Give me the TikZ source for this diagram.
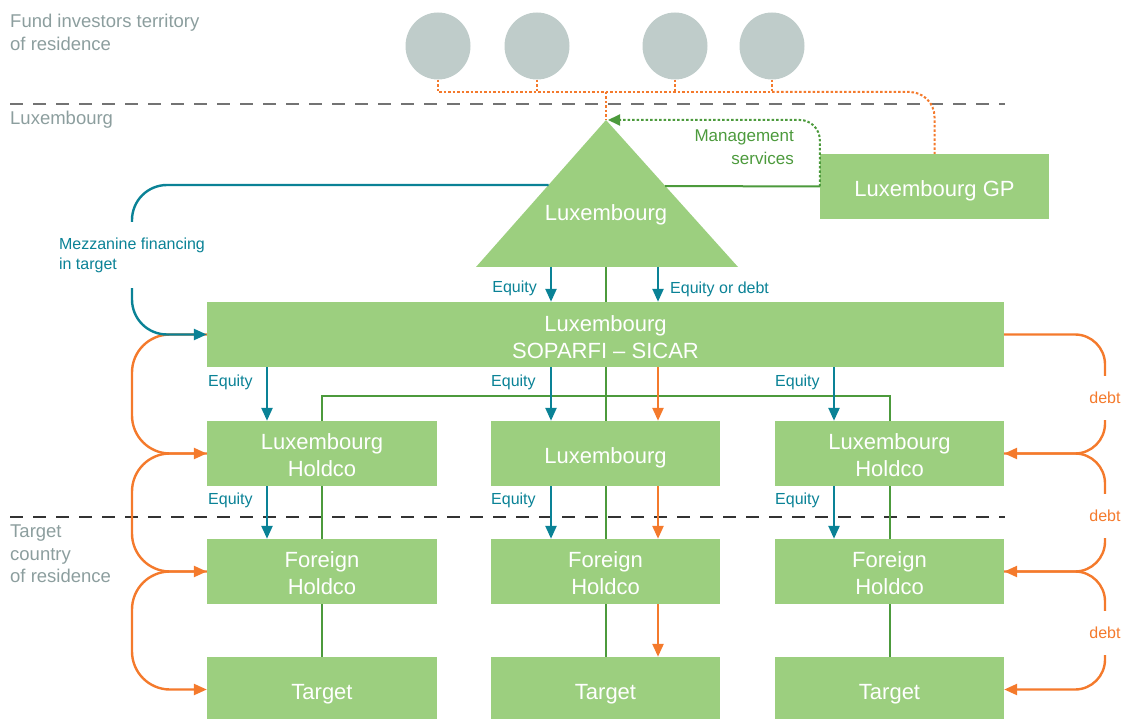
\documentclass[tikz,border=0pt]{standalone}
\usepackage{fontspec}
\setmainfont{Liberation Sans}
\usetikzlibrary{arrows.meta,shapes.geometric,calc}
\definecolor{boxg}{HTML}{9CCF7F}
\definecolor{tealc}{HTML}{0A8296}
\definecolor{orangec}{HTML}{F47A2C}
\definecolor{dgreen}{HTML}{4C9A3C}
\definecolor{greyt}{HTML}{8C9E9E}
\definecolor{circg}{HTML}{BFCCCA}
\newcommand\bxtext[2][-5pt]{\raisebox{#1}[\height][\depth]{\begin{tabular}{@{}c@{}}#2\end{tabular}}}
\begin{document}
\begin{tikzpicture}[x=1pt,y=-1pt,
  box/.style={fill=boxg,text=white,inner sep=0pt,minimum height=65pt,align=center,font=\fontsize{22}{27}\selectfont},
  tlbl/.style={font=\fontsize{16}{20}\selectfont,text=tealc,inner sep=0pt},
  olbl/.style={font=\fontsize{16}{20}\selectfont,text=orangec,inner sep=0pt,minimum height=44pt},
  region/.style={font=\fontsize{18.5}{22.5}\selectfont,text=greyt,inner sep=0pt,align=left,anchor=west},
  gl/.style={draw=dgreen,line width=2pt},
  tline/.style={draw=tealc,line width=2.4pt},
  tarr/.style={draw=tealc,line width=2.4pt,-{Triangle[length=13pt,width=11pt]}},
  oline/.style={draw=orangec,line width=2.4pt},
  oarr/.style={draw=orangec,line width=2.4pt,-{Triangle[length=13pt,width=11pt]}},
  odot/.style={draw=orangec,line width=2pt,dash pattern=on 2.5pt off 2pt},
  gdot/.style={draw=dgreen,line width=2pt,dash pattern=on 2.5pt off 2pt,-{Triangle[length=12pt,width=11pt]}},
  circ/.style={ellipse,fill=circg,minimum width=65pt,minimum height=67pt,inner sep=0pt},
  sepline/.style={line width=1.3pt,dash pattern=on 13pt off 10pt}
]
\useasboundingbox (0,0) rectangle (1129,719);

% region labels and separators
\node[region] (rl1) at (10,32.5) {Fund investors territory\\of residence};
\node[region] (rl2) at (10,120) {Luxembourg};
\node[region] (rl3) at (10,554) {Target\\country\\of residence};
\draw[sepline,draw=black!55] (10,104) -- (1005,104);
\draw[sepline,draw=black!80] (10,517) -- (1005,517);

% helper coordinates
\coordinate (apex) at (606,120);
\coordinate (tbl) at (476,267);
\coordinate (tbr) at (738,267);
\coordinate (tb) at (606,267);
\coordinate (tL) at (548.5,185);
\coordinate (tR) at (665,186);
\coordinate (hy) at (0,92);
\coordinate (lx) at (132,0);
\coordinate (xa) at (267,0);
\coordinate (xb) at (551,0);
\coordinate (xc) at (834,0);
\coordinate (xo) at (658,0);

% investors
\node[circ] (c1) at (438,46) {};
\node[circ] (c2) at (537,46) {};
\node[circ] (c3) at (675,46) {};
\node[circ] (c4) at (772,46) {};

% triangle fund
\fill[boxg] (apex) -- (tbr) -- (tbl) -- cycle;
\node[text=white,font=\fontsize{22}{27}\selectfont,inner sep=0pt] (tri) at (606,214.5) {Luxembourg};

% boxes
\node[box,minimum width=229pt] (gp) at (934.5,186.5) {\bxtext{Luxembourg GP}};
\node[box,minimum width=797pt] (sop) at (605.5,334.5) {\bxtext{Luxembourg\\SOPARFI – SICAR}};
\node[box,minimum width=230pt] (lh) at (322,453.5) {\bxtext[-4.5pt]{Luxembourg\\Holdco}};
\node[box,minimum width=229pt] (mh) at (605.5,453.5) {\bxtext{Luxembourg}};
\node[box,minimum width=229pt] (rh) at (889.5,453.5) {\bxtext[-4.5pt]{Luxembourg\\Holdco}};
\node[box,minimum width=230pt] (lf) at (322,571.5) {\bxtext[-4.5pt]{Foreign\\Holdco}};
\node[box,minimum width=229pt] (mf) at (605.5,571.5) {\bxtext[-4.5pt]{Foreign\\Holdco}};
\node[box,minimum width=229pt] (rf) at (889.5,571.5) {\bxtext[-4.5pt]{Foreign\\Holdco}};
\node[box,minimum width=230pt] (lt) at (322,689.5) {\bxtext{Target}};
\node[box,minimum width=229pt] (mt) at (605.5,689.5) {\bxtext{Target}};
\node[box,minimum width=229pt] (rt) at (889.5,689.5) {\bxtext{Target}};

% labels
\node[font=\fontsize{17}{23}\selectfont,text=dgreen,align=right,anchor=east,inner sep=0pt] (ms) at (794,147) {Management\\services};
\node[tlbl,align=left,minimum height=66pt] (mz) at (132,255) {Mezzanine financing\\in target};
\node[tlbl,anchor=east] (e0) at (537,288) {Equity};
\node[tlbl,anchor=west] (e0b) at (670,289) {Equity or debt};
\node[tlbl,anchor=west] (e1) at (208,382) {Equity};
\node[tlbl,anchor=west] (e2) at (491,382) {Equity};
\node[tlbl,anchor=west] (e3) at (775,382) {Equity};
\node[tlbl,anchor=west] (e4) at (208,500) {Equity};
\node[tlbl,anchor=west] (e5) at (491,500) {Equity};
\node[tlbl,anchor=west] (e6) at (775,500) {Equity};
\node[olbl] (d1) at (1105,398) {debt};
\node[olbl] (d2) at (1105,516) {debt};
\node[olbl] (d3) at (1105,633) {debt};

% orange dotted investor lines
\draw[odot] (c1.south) |- (c4.south |- hy);
\draw[odot] (c2.south) -- (c2.south |- hy);
\draw[odot] (c3.south) -- (c3.south |- hy);
\draw[odot] (c4.south) -- (c4.south |- hy);
\draw[odot] (apex |- hy) -- (apex);
\draw[odot,rounded corners=25pt] (c4.south |- hy) -| (gp.north);

% management services
\draw[gdot,rounded corners=20pt] (gp.west) |- ([xshift=2pt]apex);

% green ownership lines
\draw[gl] (tR) -- (gp.west);
\draw[gl] (tb) -- (tb |- sop.north);
\draw[gl] (sop.south -| tb) -- (mh.north -| tb);
\draw[gl] (mh.south -| tb) -- (mf.north -| tb);
\draw[gl] (mf.south -| tb) -- (mt.north -| tb);
\draw[gl] (lh.north) -- ++(0,-25) -| (rh.north);
\draw[gl] (lh.south) -- (lf.north);
\draw[gl] (lf.south) -- (lt.north);
\draw[gl] (rh.south) -- (rf.north);
\draw[gl] (rf.south) -- (rt.north);

% orange debt lines left
\draw[oarr,rounded corners=38pt] (sop.west) -- (sop.west -| lx) -- (lh.west -| lx) -- (lh.west);
\draw[oarr,rounded corners=38pt] (lh.west) -- (lh.west -| lx) -- (lf.west -| lx) -- (lf.west);
\draw[oarr,rounded corners=38pt] (lf.west) -- (lf.west -| lx) -- (lt.west -| lx) -- (lt.west);

% orange debt lines right
\draw[oline,rounded corners=30pt] (sop.east) -| (d1.north);
\draw[oarr,rounded corners=30pt] (d1.south) |- (rh.east);
\draw[oline,rounded corners=30pt] (rh.east) -| (d2.north);
\draw[oarr,rounded corners=30pt] (d2.south) |- (rf.east);
\draw[oline,rounded corners=30pt] (rf.east) -| (d3.north);
\draw[oarr,rounded corners=30pt] (d3.south) |- (rt.east);

% orange middle
\draw[oarr] (sop.south -| xo) -- (mh.north -| xo);
\draw[oarr] (mh.south -| xo) -- (mf.north -| xo);
\draw[oarr] (mf.south -| xo) -- (mt.north -| xo);

% teal lines
\draw[tline,rounded corners=35pt] (tL) -| (mz.north);
\draw[tarr,rounded corners=35pt] (mz.south) |- (sop.west);
\draw[tarr] (tb -| xb) -- (sop.north -| xb);
\draw[tarr] (tb -| xo) -- (sop.north -| xo);
\draw[tarr] (sop.south -| xa) -- (lh.north -| xa);
\draw[tarr] (sop.south -| xb) -- (mh.north -| xb);
\draw[tarr] (sop.south -| xc) -- (rh.north -| xc);
\draw[tarr] (lh.south -| xa) -- (lf.north -| xa);
\draw[tarr] (mh.south -| xb) -- (mf.north -| xb);
\draw[tarr] (rh.south -| xc) -- (rf.north -| xc);
\end{tikzpicture}
\end{document}
